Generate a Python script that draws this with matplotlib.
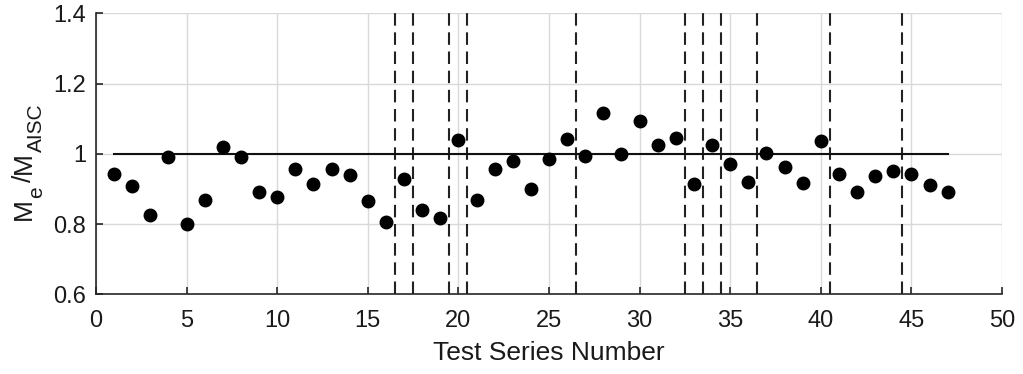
import matplotlib
matplotlib.use("Agg")
import matplotlib.pyplot as plt
from matplotlib.ticker import FuncFormatter
from matplotlib.font_manager import FontProperties

plt.rcParams['font.family'] = ['Liberation Sans', 'DejaVu Sans']

series = list(range(1, 48))
ratio = [0.944, 0.910, 0.826, 0.992, 0.801, 0.870, 1.019, 0.991, 0.892, 0.876,
         0.956, 0.913, 0.956, 0.940, 0.866, 0.806, 0.930, 0.840, 0.818, 1.040,
         0.869, 0.958, 0.979, 0.900, 0.986, 1.043, 0.994, 1.115, 1.000, 1.095,
         1.026, 1.045, 0.915, 1.025, 0.972, 0.919, 1.002, 0.963, 0.917, 1.037,
         0.944, 0.893, 0.936, 0.952, 0.944, 0.911, 0.891]
dividers = [16.5, 17.5, 19.5, 20.5, 26.5, 32.5, 33.5, 34.5, 36.5, 40.5, 44.5]
ref_x = [1, 47]
ref_y = [1.0, 1.0]
xticks = [0, 5, 10, 15, 20, 25, 30, 35, 40, 45, 50]
yticks = [0.6, 0.8, 1.0, 1.2, 1.4]
ylabel_parts = [("M", False), ("e", True), ("/", False), ("M", False), ("AISC", True)]

W, H = 1023, 374
fig = plt.figure(figsize=(W / 100, H / 100), dpi=100)
ax = fig.add_axes([0.0938, 0.2126, 0.9795 - 0.0938, 0.9644 - 0.2126])

ax.set_xlim(0, 50)
ax.set_ylim(0.6, 1.4)
ax.set_xticks(xticks)
ax.set_yticks(yticks)
ax.yaxis.set_major_formatter(FuncFormatter(lambda v, p: f"{v:g}"))
ax.grid(True, color='#d9d9d9', linewidth=1.0)
ax.set_axisbelow(True)

for s in ['top', 'right']:
    ax.spines[s].set_visible(False)
for s in ['left', 'bottom']:
    ax.spines[s].set_color('#262626')
    ax.spines[s].set_linewidth(1.2)

ax.tick_params(direction='in', length=5, width=1.2, color='#262626',
               labelcolor='#1a1a1a', labelsize=17, top=False, right=False)
ax.tick_params(axis='x', pad=11)
ax.tick_params(axis='y', pad=7)

for d in dividers:
    ax.axvline(d, color='#222222', linewidth=1.5, linestyle=(0, (6, 3.2)), zorder=2)

ax.plot(ref_x, ref_y, color='#111111', linewidth=1.5, zorder=2)
ax.plot(series, ratio, 'o', color='black', markersize=9, zorder=3)

ax.set_xlabel('Test Series Number', fontsize=19, labelpad=7, color='#1a1a1a')

# y label built from pieces (MATLAB-style large subscripts), rotated 90 deg
renderer = fig.canvas.get_renderer()
main_fp = FontProperties(family='Liberation Sans', size=19)
sub_fp = FontProperties(family='Liberation Sans', size=15)
base_x = 31.0      # baseline position (px from left)
pos_y = 220.0      # start of text (px from top), running upward
for txt, is_sub in ylabel_parts:
    fp = sub_fp if is_sub else main_fp
    xoff = 11.0 if is_sub else 0.0
    fig.text((base_x + xoff) / W, 1 - pos_y / H, txt, fontproperties=fp,
             rotation=90, rotation_mode='anchor', ha='left', va='baseline',
             color='#1a1a1a')
    w, h, dsc = renderer.get_text_width_height_descent(txt, fp, ismath=False)
    pos_y -= w
    if txt == "e":
        pos_y -= 5.0

fig.savefig('out.png', dpi=100)
